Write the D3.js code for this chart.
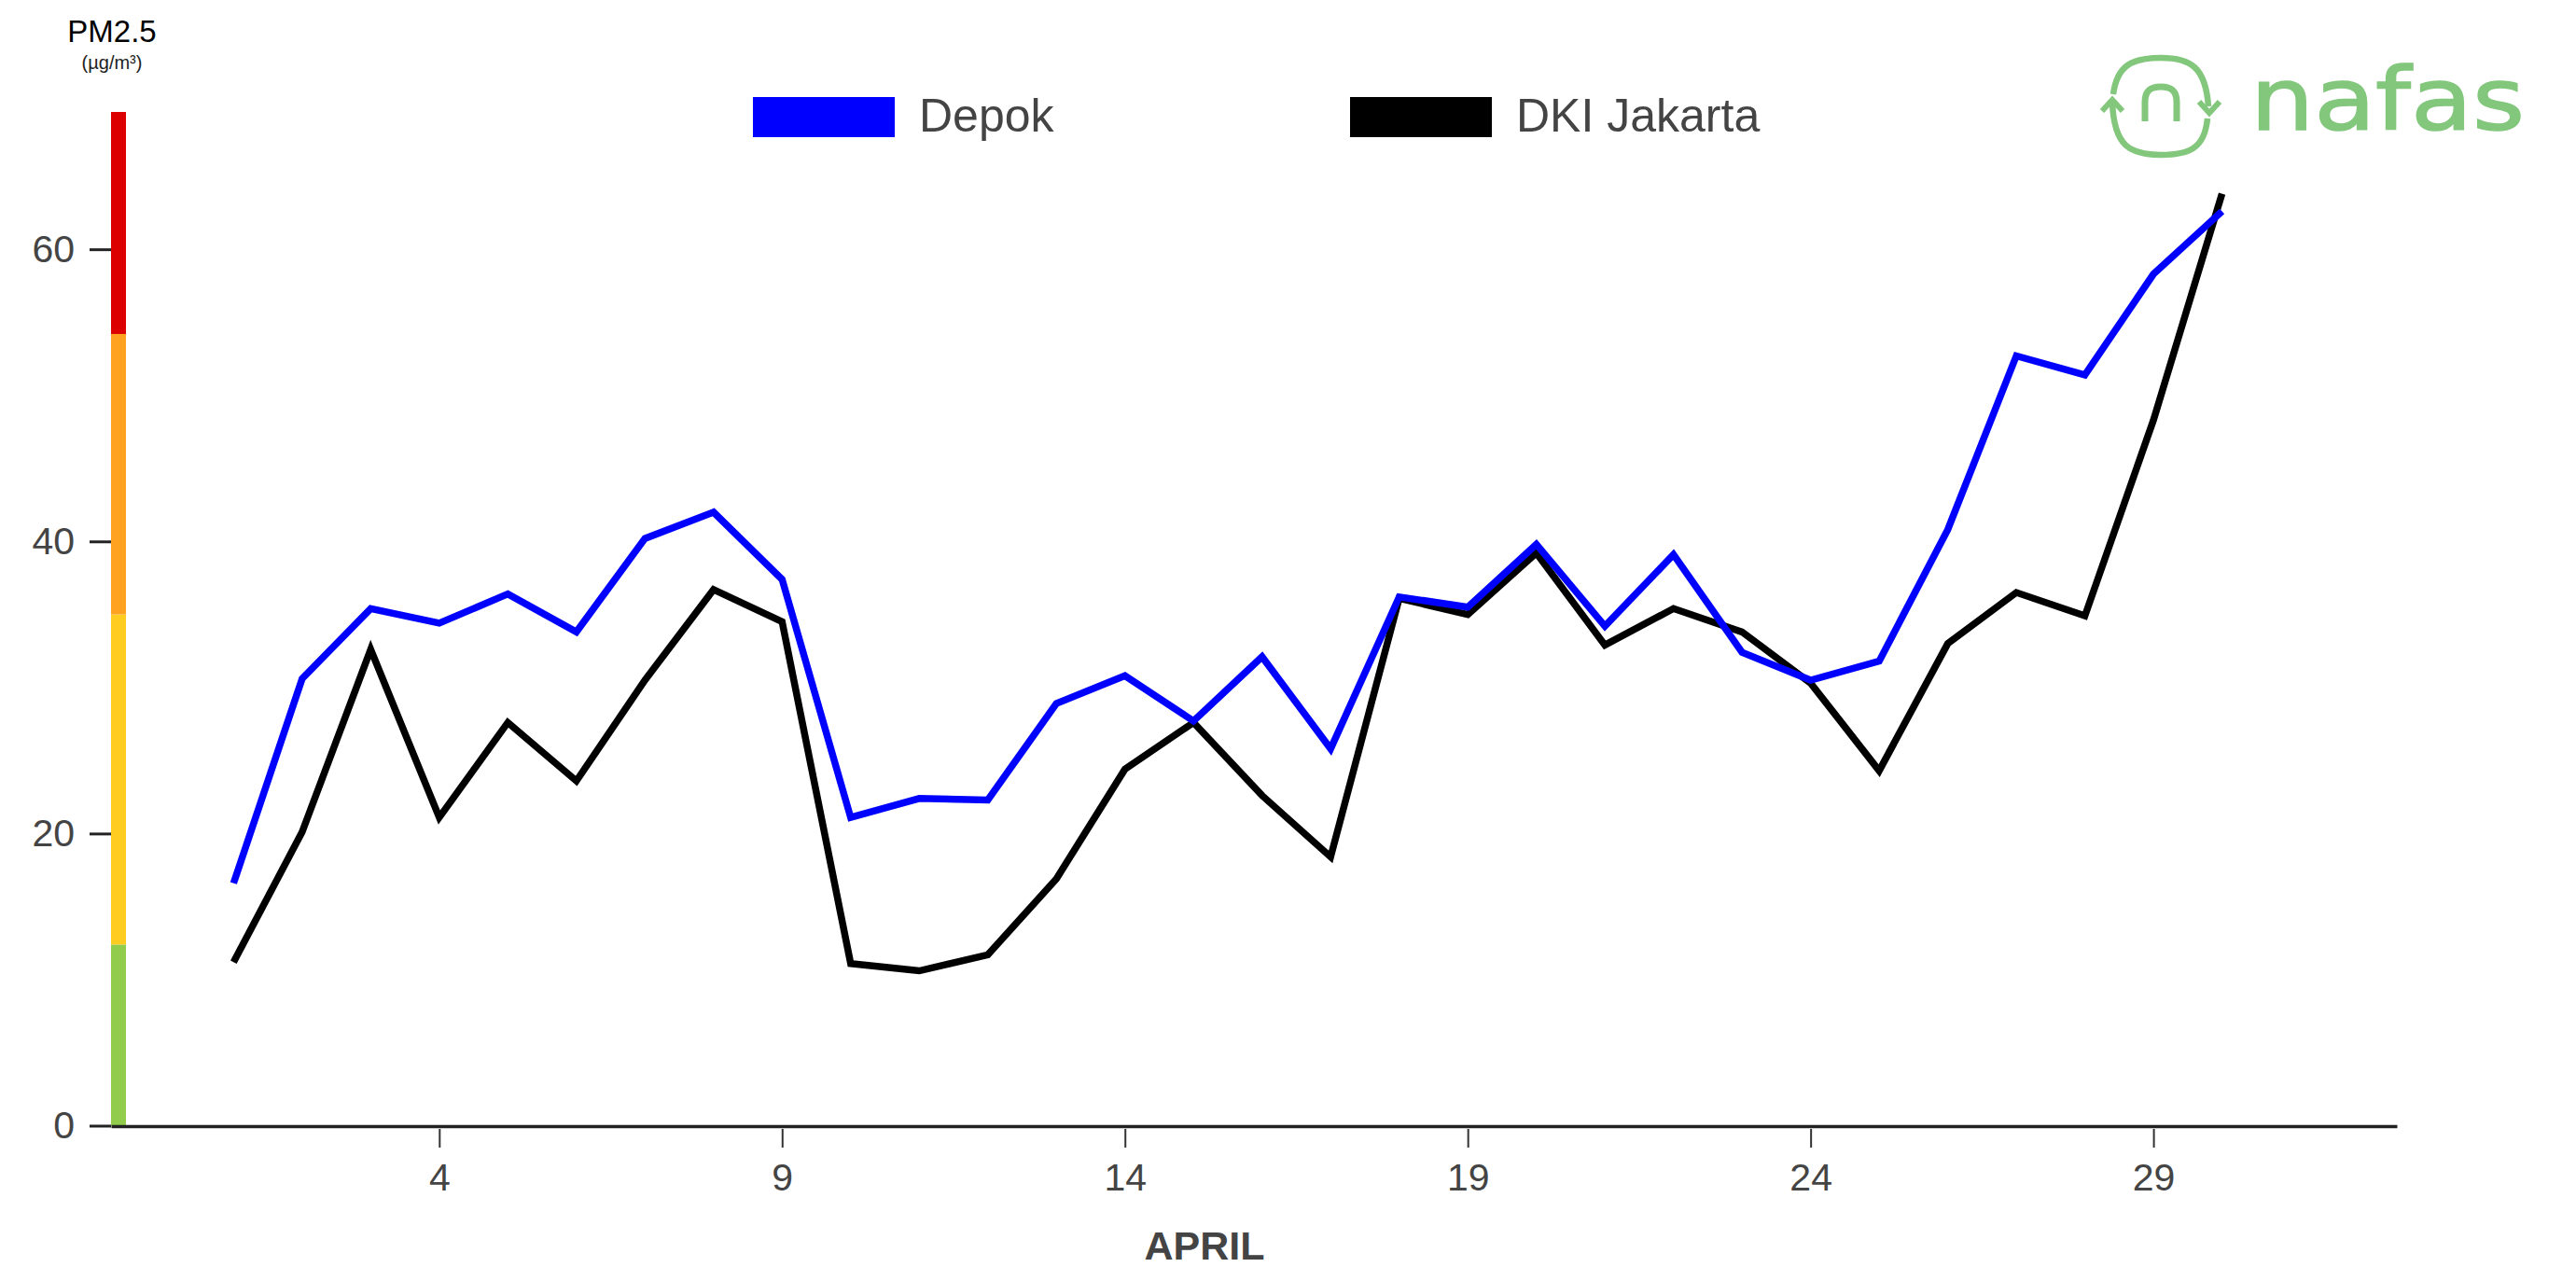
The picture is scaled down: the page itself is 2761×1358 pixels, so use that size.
<!DOCTYPE html>
<html>
<head>
<meta charset="utf-8">
<script src="https://cdn.jsdelivr.net/npm/d3@7"></script>
<style>
  html, body { margin: 0; padding: 0; background: #fff; }
  svg { display: block; font-family: "Liberation Sans", Arial, sans-serif; }
</style>
</head>
<body>
<svg id="chart" width="2761" height="1358"></svg>
<script>
// ---- data (April, day of month) ----
const days = [1,2,3,4,5,6,7,8,9,10,11,12,13,14,15,16,17,18,19,20,21,22,23,24,25,26,27,28,29,30];
const depok = [16.6,30.6,35.4,34.4,36.4,33.8,40.2,42.0,37.4,21.1,22.4,22.3,28.9,30.8,27.7,32.1,25.8,36.2,35.5,39.8,34.2,39.1,32.4,30.5,31.8,40.8,52.7,51.4,58.3,62.6];
const jakarta = [11.2,20.1,32.6,21.1,27.6,23.6,30.5,36.7,34.5,11.1,10.6,11.7,16.9,24.4,27.6,22.6,18.4,36.1,35.0,39.2,32.9,35.4,33.8,30.3,24.3,33.0,36.5,34.9,48.3,63.8];
const seriesNames = ["Depok", "DKI Jakarta"];
const seriesColors = ["#0000ff", "#000000"];
const xTickValues = [4, 9, 14, 19, 24, 29];
const yTickValues = [0, 20, 40, 60];
const bandBreaks = [0, 12.4, 35.0, 54.2, 69.4];
const bandColors = ["#92cc4c", "#ffcd22", "#ffa222", "#dc0000"];
const xDomain = [-0.787, 32.55];
const yDomain = [0, 69.4];

const svg = d3.select("#chart");

const x = d3.scaleLinear().domain(xDomain).range([119, 2569]);
const y = d3.scaleLinear().domain(yDomain).range([1206.5, 120]);

// colour band bar (y axis)
svg.append("g").selectAll("rect")
  .data(d3.range(bandColors.length))
  .join("rect")
  .attr("x", 119)
  .attr("width", 16)
  .attr("y", i => y(bandBreaks[i + 1]))
  .attr("height", i => y(bandBreaks[i]) - y(bandBreaks[i + 1]))
  .attr("fill", i => bandColors[i]);

// y axis
const yAxis = svg.append("g")
  .attr("transform", "translate(119,0)")
  .call(d3.axisLeft(y).tickValues(yTickValues).tickSize(23).tickPadding(16));
yAxis.select(".domain").remove();
yAxis.selectAll(".tick line").attr("stroke", "#222").attr("stroke-width", 3);
yAxis.selectAll(".tick text")
  .attr("fill", "#444")
  .style("font-size", "41px")
  .style("font-family", "'Liberation Sans', Arial, sans-serif");

// x axis
const xAxis = svg.append("g")
  .attr("transform", "translate(0,1207)")
  .call(d3.axisBottom(x).tickValues(xTickValues).tickSize(23).tickPadding(17).tickSizeOuter(0));
xAxis.select(".domain").attr("stroke", "#222").attr("stroke-width", 3.5);
xAxis.selectAll(".tick line").attr("y1", 3).attr("stroke", "#333").attr("stroke-width", 2);
xAxis.selectAll(".tick text")
  .attr("fill", "#444")
  .style("font-size", "41px")
  .style("font-family", "'Liberation Sans', Arial, sans-serif");

// axis titles
svg.append("text")
  .attr("x", 1291).attr("y", 1350)
  .attr("text-anchor", "middle")
  .attr("fill", "#444")
  .style("font-size", "43px")
  .style("font-weight", "bold")
  .text("APRIL");

svg.append("text")
  .attr("x", 120).attr("y", 45)
  .attr("text-anchor", "middle")
  .attr("fill", "#000")
  .style("font-size", "33px")
  .text("PM2.5");
svg.append("text")
  .attr("x", 120).attr("y", 74)
  .attr("text-anchor", "middle")
  .attr("fill", "#222")
  .style("font-size", "20px")
  .text("(µg/m³)");

// lines
const line = d3.line().x((d, i) => x(days[i])).y(d => y(d));
const seriesData = [jakarta, depok];
const seriesOrderColors = [seriesColors[1], seriesColors[0]];
svg.append("g").selectAll("path")
  .data(seriesData)
  .join("path")
  .attr("d", d => line(d))
  .attr("fill", "none")
  .attr("stroke", (d, i) => seriesOrderColors[i])
  .attr("stroke-width", 7.5)
  .attr("stroke-linejoin", "miter");

// legend
const legendX = [807, 1447];
const lg = svg.append("g").selectAll("g")
  .data(seriesNames)
  .join("g")
  .attr("transform", (d, i) => `translate(${legendX[i]},104)`);
lg.append("rect")
  .attr("width", 152).attr("height", 43)
  .attr("fill", (d, i) => seriesColors[i]);
lg.append("text")
  .attr("x", 178).attr("y", 37)
  .attr("fill", "#444")
  .style("font-size", "50px")
  .text(d => d);

// logo
const logoColor = "#82c77c";
const logo = svg.append("g").attr("fill", "none").attr("stroke", logoColor);
logo.append("path")
  .attr("d", "M2265,101 C2269,71 2284,62 2316,62 C2348,62 2364,72 2367,114")
  .attr("stroke-width", 6.5);
logo.append("path")
  .attr("d", "M2357,109 L2368,121 L2379,109")
  .attr("stroke-width", 6);
logo.append("path")
  .attr("d", "M2366,127 C2363,158 2348,166 2316,166 C2283,166 2266,157 2264,110")
  .attr("stroke-width", 6.5);
logo.append("path")
  .attr("d", "M2253,119 L2264,107 L2275,119")
  .attr("stroke-width", 6);
logo.append("path")
  .attr("d", "M2299,130 L2299,109 C2299,97 2305,93 2316,93 C2327,93 2333,97 2333,109 L2333,130")
  .attr("stroke-width", 7);
svg.append("text")
  .attr("x", 2412).attr("y", 139)
  .attr("fill", logoColor)
  .attr("stroke", logoColor)
  .attr("stroke-width", 1.5)
  .attr("textLength", 294)
  .attr("lengthAdjust", "spacingAndGlyphs")
  .style("font-family", "'DejaVu Sans', sans-serif")
  .style("font-size", "93px")
  .text("nafas");
</script>
</body>
</html>
